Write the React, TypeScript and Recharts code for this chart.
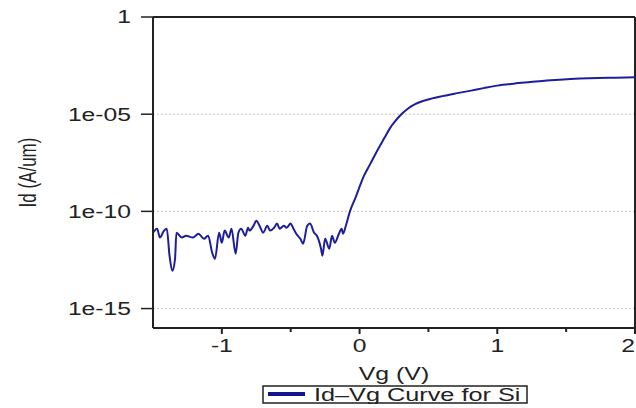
import { LineChart, Line, XAxis, YAxis, CartesianGrid, Legend, ReferenceLine } from "recharts";

// gate voltage (V) and log10 of drain current (A/um)
const VG = [
  -1.5, -1.47, -1.45, -1.42, -1.4, -1.38, -1.36, -1.34, -1.33, -1.29,
  -1.26, -1.21, -1.17, -1.13, -1.1, -1.07, -1.05, -1.02, -1.0, -0.98,
  -0.95, -0.93, -0.9, -0.88, -0.86, -0.83, -0.81, -0.8, -0.77, -0.75,
  -0.72, -0.7, -0.67, -0.65, -0.62, -0.6, -0.58, -0.55, -0.53, -0.5,
  -0.48, -0.46, -0.43, -0.41, -0.38, -0.36, -0.33, -0.31, -0.28, -0.27,
  -0.25, -0.22, -0.2, -0.18, -0.15, -0.13, -0.12, -0.1, -0.07, -0.03,
  0.03, 0.08, 0.13, 0.18, 0.22, 0.26, 0.3, 0.35, 0.4, 0.45,
  0.52, 0.6, 0.7, 0.8, 0.9, 1.0, 1.12, 1.24, 1.36, 1.48,
  1.6, 1.73, 1.86, 2.0,
];
const LOG_ID = [
  -11.1, -10.89, -11.35, -10.99, -10.89, -12.28, -13.06, -12.44, -11.1, -11.35,
  -11.25, -11.35, -11.15, -11.41, -11.25, -12.13, -12.44, -11.1, -11.61, -10.99,
  -11.35, -10.89, -12.18, -11.1, -10.89, -11.25, -10.84, -10.99, -10.74, -10.48,
  -10.84, -11.1, -10.74, -10.99, -10.84, -10.63, -10.89, -10.74, -10.84, -10.63,
  -10.89, -11.15, -11.41, -11.66, -10.74, -10.63, -11.1, -11.25, -11.92, -12.28,
  -11.41, -11.92, -11.25, -11.61, -11.15, -10.89, -11.15, -10.75, -10.0, -9.3,
  -8.2, -7.53, -6.85, -6.23, -5.73, -5.35, -5.03, -4.72, -4.5, -4.35,
  -4.2, -4.07, -3.93, -3.8, -3.66, -3.53, -3.43, -3.35, -3.27, -3.21,
  -3.17, -3.14, -3.12, -3.1,
];

const Y_TICKS = [1, 1e-5, 1e-10, 1e-15];
const X_TICKS = [-1, -0.5, 0, 0.5, 1, 1.5, 2];
const X_LABELED = [-1, 0, 1, 2];
const SERIES_NAME = "Id\u2013Vg Curve for Si";
const X_TITLE = "Vg (V)";
const Y_TITLE = "Id (A/um)";

const FONT = '"Liberation Sans", Arial, Helvetica, sans-serif';
const INK = "#222";
const BLUE = "#1e1e9c";
const SX = 1.3; // the source figure is stretched sideways
const W = 636;

const data = VG.map((v, i) => ({ vg: v, id: Math.pow(10, LOG_ID[i]) }));

const fmtY = (v: number) => {
  const e = Math.round(Math.log10(v));
  return e === 0 ? "1" : `1e-${String(-e).padStart(2, "0")}`;
};

function YTick({ x, y, payload }: any) {
  return (
    <text
      transform={`translate(${x},${y}) scale(${SX},1)`}
      textAnchor="end"
      dominantBaseline="central"
      fontSize={19}
      fontFamily={FONT}
      fill={INK}
    >
      {fmtY(payload.value)}
    </text>
  );
}

function XTick({ x, y, payload }: any) {
  const major = X_LABELED.includes(payload.value);
  const axisY = y - 9; // tickSize 6 + tickMargin 3
  const tx = Math.min(x, W - 8); // keep the last label inside the page
  return (
    <g>
      <line x1={x} x2={x} y1={axisY} y2={axisY + (major ? 6 : 4)} stroke={INK} strokeWidth={2} />
      {major && (
        <text
          transform={`translate(${tx},${y}) scale(${SX},1)`}
          textAnchor="middle"
          dy="0.78em"
          fontSize={19}
          fontFamily={FONT}
          fill={INK}
        >
          {String(payload.value)}
        </text>
      )}
    </g>
  );
}

function XTitle(p: any) {
  const vb = p.viewBox || {};
  return (
    <text
      transform={`translate(${vb.x + vb.width / 2},${vb.y + 52}) scale(1.38,1)`}
      textAnchor="middle"
      fontSize={18}
      fontFamily={FONT}
      fill={INK}
    >
      {X_TITLE}
    </text>
  );
}

function YTitle(p: any) {
  const vb = p.viewBox || {};
  return (
    <text
      transform={`translate(27,${vb.y + vb.height / 2}) scale(1.4,1) rotate(-90)`}
      textAnchor="middle"
      dominantBaseline="central"
      fontSize={17}
      fontFamily={FONT}
      fill={INK}
    >
      {Y_TITLE}
    </text>
  );
}

function LegendBox() {
  return (
    <svg width={266} height={19} style={{ display: "block" }}>
      <rect x={1} y={1} width={264} height={17} fill="#fff" stroke={INK} strokeWidth={1.5} />
      <line x1={6} x2={43} y1={9} y2={9} stroke="#15158a" strokeWidth={4} />
      <text
        transform="translate(52,16) scale(1.33,1)"
        fontSize={19}
        fontFamily={FONT}
        fill={INK}
      >
        {SERIES_NAME}
      </text>
    </svg>
  );
}

export default function App() {
  return (
    <div style={{ position: "absolute", left: 0, top: 0, width: W, height: 408, background: "#fff" }}>
      <LineChart width={W} height={408} data={data} margin={{ top: 17, right: 1, left: 0, bottom: 0 }}>
        <CartesianGrid vertical={false} stroke="#c4c4c4" strokeDasharray="2 2" />
        <XAxis
          dataKey="vg"
          type="number"
          domain={[-1.5, 2]}
          ticks={X_TICKS}
          interval={0}
          allowDataOverflow
          height={80}
          tickSize={6}
          tickMargin={3}
          tickLine={false}
          axisLine={{ stroke: INK, strokeWidth: 2 }}
          tick={XTick}
          label={(p: any) => <XTitle {...p} />}
        />
        <YAxis
          type="number"
          scale="log"
          domain={[1e-16, 1]}
          ticks={Y_TICKS}
          interval={0}
          allowDataOverflow
          width={153}
          tickSize={12}
          tickMargin={10}
          tickLine={{ stroke: INK, strokeWidth: 1.5 }}
          axisLine={{ stroke: INK, strokeWidth: 2 }}
          tick={YTick}
          label={(p: any) => <YTitle {...p} />}
        />
        <ReferenceLine y={1} stroke={INK} strokeWidth={2} ifOverflow="visible" />
        <ReferenceLine x={2} stroke={INK} strokeWidth={2} ifOverflow="visible" />
        <Legend
          verticalAlign="middle"
          align="center"
          layout="horizontal"
          wrapperStyle={{ left: 262, top: 385, width: 266, height: 19, lineHeight: 0 }}
          content={() => <LegendBox />}
        />
        <Line
          type="monotone"
          dataKey="id"
          name={SERIES_NAME}
          stroke={BLUE}
          strokeWidth={2}
          dot={false}
          isAnimationActive={false}
        />
      </LineChart>
    </div>
  );
}
